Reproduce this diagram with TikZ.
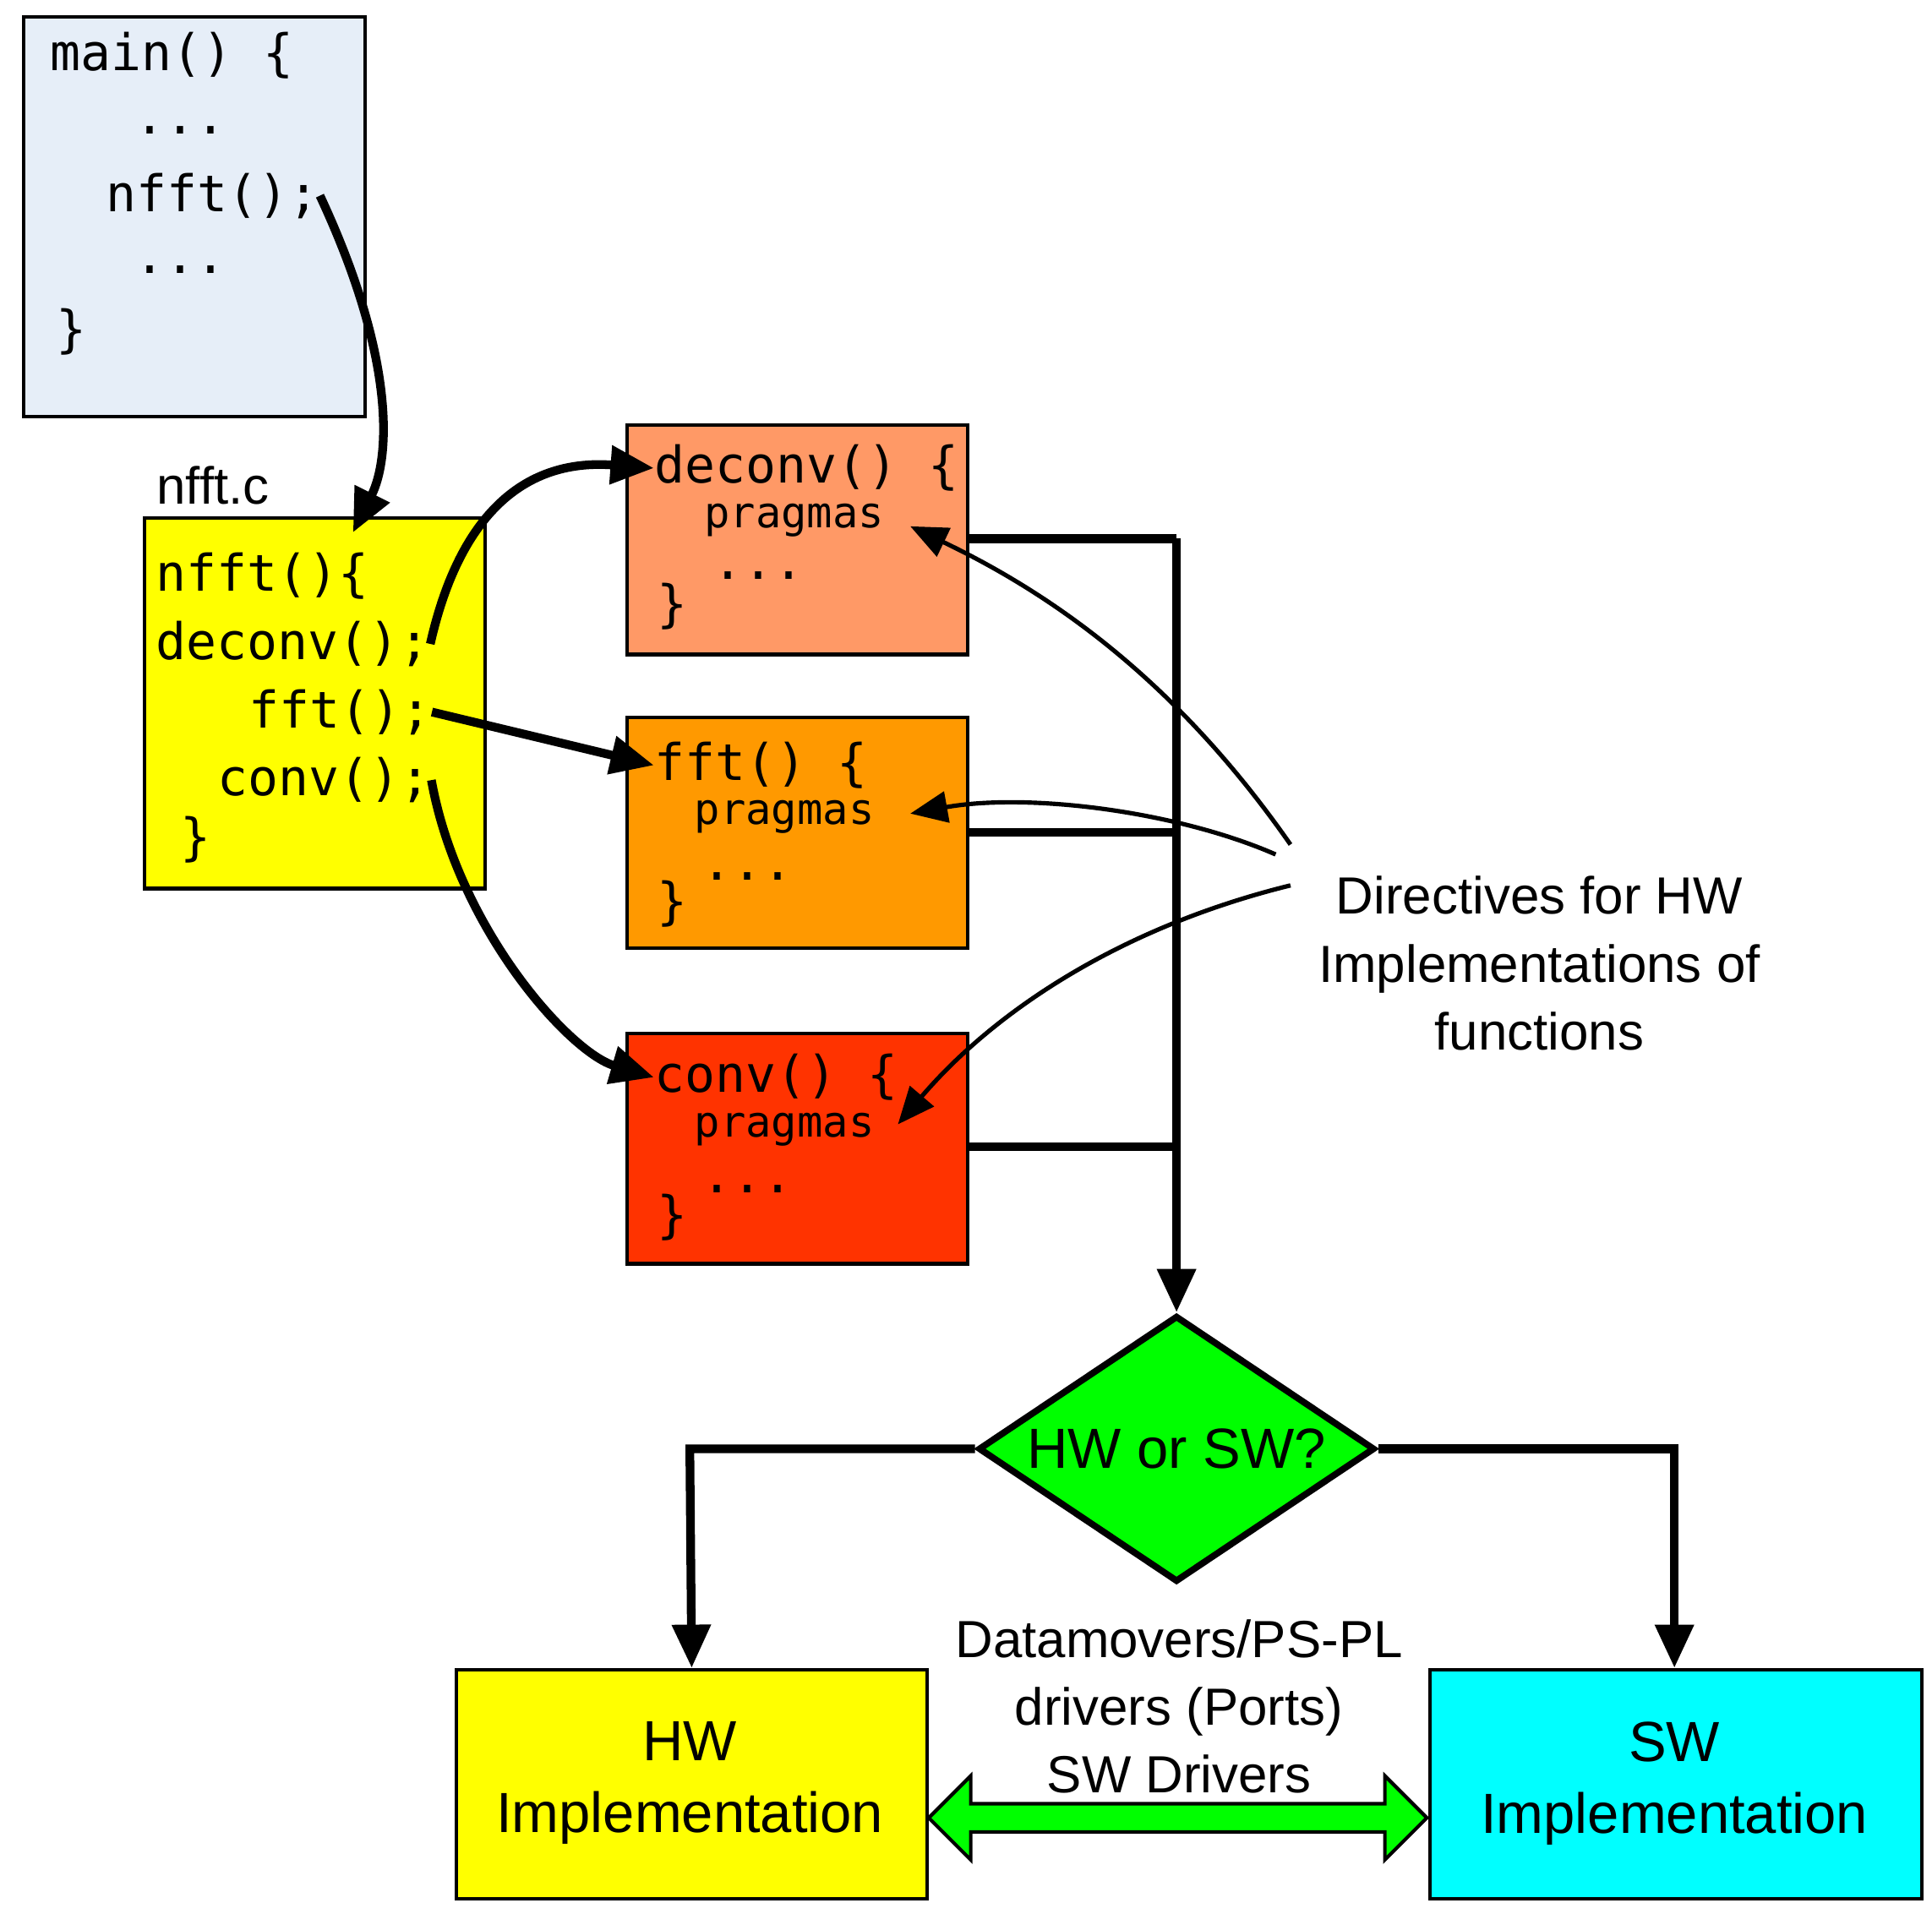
\documentclass[tikz,border=0pt]{standalone}
\usepackage{fontspec}
\setmainfont{Liberation Sans}
\setmonofont{DejaVu Sans Mono}
\usetikzlibrary{shapes.geometric,shapes.arrows,arrows.meta}
\definecolor{mainbg}{HTML}{E6EEF8}
\definecolor{deconvbg}{HTML}{FF9966}
\definecolor{fftbg}{HTML}{FF9900}
\definecolor{convbg}{HTML}{FF3300}
\definecolor{hwbg}{HTML}{FFFF00}
\definecolor{swbg}{HTML}{00FFFF}
\definecolor{decbg}{HTML}{00FF00}
\begin{document}
\begin{tikzpicture}[x=0.01cm,y=-0.01cm,
    box/.style={draw,line width=0.8pt,anchor=north west,inner sep=0pt},
    code/.style={anchor=west,inner sep=0pt,font=\fontsize{11.6}{13}\selectfont\ttfamily},
    prag/.style={anchor=west,inner sep=0pt,font=\fontsize{9.8}{11}\selectfont\ttfamily},
    txt/.style={align=center,font=\fontsize{12}{15.6}\selectfont},
    flow/.style={line width=2pt},
    call/.style={line width=2pt,-{Triangle[length=0.35cm,width=0.3cm]}},
    hint/.style={line width=1pt,-{Triangle[length=0.3cm,width=0.25cm]}}]
\useasboundingbox (0,0) rectangle (1560,1545);
% main program
\node[box,fill=mainbg,minimum width=2.75cm,minimum height=3.23cm] (main) at (18,12) {};
\node[code] at (40,45) {main() \{};
\node[code] at (108,105) {...};
\node[code] (call) at (85,158) {nfft();};
\node[code] at (108,218) {...};
\node[code] at (45,268) {\}};
% nfft.c
\node[txt] (fname) at (172,392) {nfft.c};
\node[box,fill=hwbg,minimum width=2.75cm,minimum height=2.99cm] (nfft) at (115,417) {};
\node[code] at (125,465) {nfft()\{};
\node[code] (cdeconv) at (125,520) {deconv();};
\node[code] (cfft) at (200,575) {fft();};
\node[code] (cconv) at (175,630) {conv();};
\node[code] at (145,678) {\}};
% functions
\node[box,fill=deconvbg,minimum width=2.75cm,minimum height=1.85cm] (deconv) at (505,342) {};
\node[code] (tdeconv) at (528,378) {deconv() \{};
\node[prag] (pdeconv) at (568,420) {pragmas};
\node[code] at (530,490) {\}};
\node[code] at (575,465) {...};
\node[box,fill=fftbg,minimum width=2.75cm,minimum height=1.86cm] (fft) at (505,578) {};
\node[code] (tfft) at (528,618) {fft() \{};
\node[prag] (pfft) at (560,660) {pragmas};
\node[code] at (530,730) {\}};
\node[code] at (566,708) {...};
\node[box,fill=convbg,minimum width=2.75cm,minimum height=1.86cm] (conv) at (505,833) {};
\node[code] (tconv) at (528,870) {conv() \{};
\node[prag] (pconv) at (560,912) {pragmas};
\node[code] at (530,983) {\}};
\node[code] at (566,960) {...};
% decision
\node[diamond,draw,line width=1.5pt,fill=decbg,shape aspect=1.49,minimum width=3.2cm,
      minimum height=2.15cm,inner sep=0pt] (dec) at (950,1170) {};
\node[font=\fontsize{13}{15}\selectfont] at (dec.center) {HW or SW?};
\node[box,fill=hwbg,minimum width=3.8cm,minimum height=1.85cm] (hw) at (367,1347) {};
\node[txt,font=\fontsize{13}{16.5}\selectfont] at (557,1440) {HW\\Implementation};
\node[box,fill=swbg,minimum width=3.97cm,minimum height=1.85cm] (sw) at (1153,1347) {};
\node[txt,font=\fontsize{13}{16.5}\selectfont] at (1352,1440) {SW\\Implementation};
\node[txt] (ports) at (952,1378) {Datamovers/PS-PL\\drivers (Ports)\\SW Drivers};
\node[double arrow,draw,line width=0.8pt,fill=decbg,minimum height=4.02cm,minimum width=0.65cm,
      inner sep=0.1cm,double arrow head extend=0.225cm] (link) at (951,1468) {};
\node[txt] (dir) at (1243,778) {Directives for HW\\Implementations of\\functions};
% connectors
\coordinate (bus) at (950,435);
\coordinate (busfft) at (950,672);
\coordinate (busconv) at (950,926);
\coordinate (hwc) at (557,1170);
\coordinate (swc) at (1352,1170);
\draw[flow] (deconv.east |- bus) -- (bus);
\draw[flow] (fft.east |- busfft) -- (busfft);
\draw[flow] (conv.east |- busconv) -- (busconv);
\draw[call] (bus) -- (dec.north);
\draw[call] (dec.west) -- (hwc) -- (hw.north);
\draw[call] (dec.east) -- (swc) -- (swc |- sw.north);
\draw[call] (call.east) .. controls (320,290) and (315,370) .. (285,430);
\draw[call] (cdeconv.east) .. controls (370,420) and (420,370) .. (tdeconv.west);
\draw[call] (cfft.east) -- (tfft.west);
\draw[call] (cconv.east) .. controls (370,750) and (460,850) .. (tconv.west);
\coordinate (d1) at (1042,682);
\coordinate (d2) at (1030,690);
\coordinate (d3) at (1042,715);
\draw[hint] (d1) .. controls (950,550) and (850,480) .. (735,425);
\draw[hint] (d2) .. controls (950,655) and (830,640) .. (735,657);
\draw[hint] (d3) .. controls (900,750) and (800,820) .. (725,908);
\end{tikzpicture}
\end{document}
